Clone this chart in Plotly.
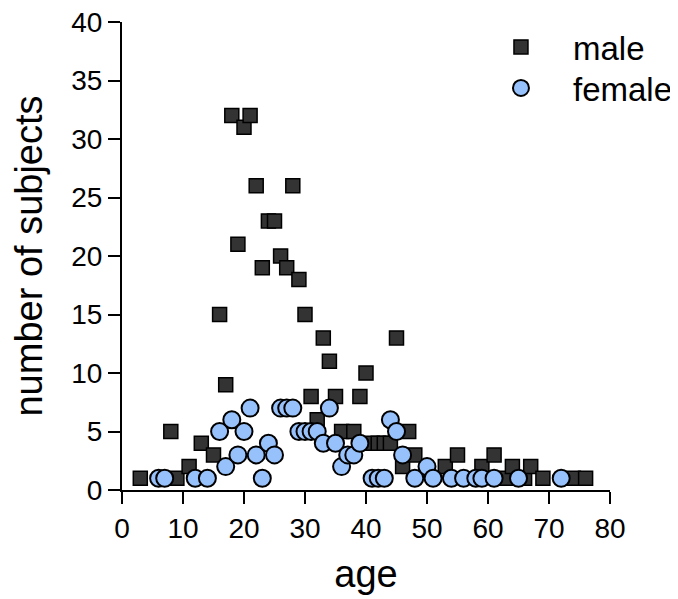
import plotly.graph_objects as go

male_age = [3, 8, 9, 11, 13, 15, 16, 17, 18, 19, 20, 21, 22, 23, 24, 25, 26, 27, 28, 29,
            30, 31, 32, 33, 34, 35, 36, 38, 39, 40, 41, 42, 43, 44, 45, 46, 47, 48, 53,
            55, 59, 61, 63, 64, 66, 67, 69, 74, 76]
male_n = [1, 5, 1, 2, 4, 3, 15, 9, 32, 21, 31, 32, 26, 19, 23, 23, 20, 19, 26, 18,
          15, 8, 6, 13, 11, 8, 5, 5, 8, 10, 4, 4, 4, 4, 13, 2, 5, 3, 2,
          3, 2, 3, 1, 2, 1, 2, 1, 1, 1]

female_age = [6, 7, 12, 14, 16, 17, 18, 19, 20, 21, 22, 23, 24, 25, 26, 27, 28, 29, 30,
              31, 32, 33, 34, 35, 36, 37, 38, 39, 41, 42, 43, 44, 45, 46, 48, 50, 51,
              54, 56, 58, 59, 61, 65, 72]
female_n = [1, 1, 1, 1, 5, 2, 6, 3, 5, 7, 3, 1, 4, 3, 7, 7, 7, 5, 5,
            5, 5, 4, 7, 4, 2, 3, 3, 4, 1, 1, 1, 6, 5, 3, 1, 2, 1,
            1, 1, 1, 1, 1, 1, 1]

x_ticks = [0, 10, 20, 30, 40, 50, 60, 70, 80]
y_ticks = [0, 5, 10, 15, 20, 25, 30, 35, 40]

font = "Liberation Sans, Arial, sans-serif"

fig = go.Figure()
fig.add_trace(go.Scatter(
    x=male_age, y=male_n, mode="markers", name="male", legend="legend",
    marker=dict(symbol="square", size=14, color="#333333",
                line=dict(color="#000000", width=1.5)),
    cliponaxis=False,
))
fig.add_trace(go.Scatter(
    x=female_age, y=female_n, mode="markers", name="female", legend="legend2",
    marker=dict(symbol="circle", size=17, color="#97c1fb",
                line=dict(color="#000000", width=2)),
    cliponaxis=False,
))

legend_common = dict(xanchor="left", yanchor="middle",
                     font=dict(size=33, family=font), itemwidth=94,
                     bgcolor="rgba(0,0,0,0)", borderwidth=0)

fig.update_layout(
    width=670, height=591,
    margin=dict(l=114, r=68, t=14, b=109, autoexpand=False),
    paper_bgcolor="white", plot_bgcolor="white",
    font=dict(family=font, size=28, color="black"),
    showlegend=True,
    legend=dict(x=0.711, y=0.9466, **legend_common),
    legend2=dict(x=0.711, y=0.859, **legend_common),
    xaxis=dict(range=[0, 80], tickvals=x_ticks, showgrid=False, zeroline=False,
               showline=True, linecolor="black", linewidth=2, automargin=False,
               ticks="outside", ticklen=12, tickwidth=2, tickcolor="black",
               tickfont=dict(size=28, family=font), ticklabeloverflow="allow",
               title=dict(text="age", font=dict(size=38, family=font), standoff=18)),
    yaxis=dict(range=[0, 40], tickvals=y_ticks, showgrid=False, zeroline=False,
               showline=True, linecolor="black", linewidth=2, automargin=False,
               ticks="outside", ticklen=12, tickwidth=2, tickcolor="black",
               tickfont=dict(size=28, family=font), ticklabeloverflow="allow",
               title=dict(text="number of subjects", font=dict(size=38, family=font), standoff=20)),
)

fig.write_html("out.html")
